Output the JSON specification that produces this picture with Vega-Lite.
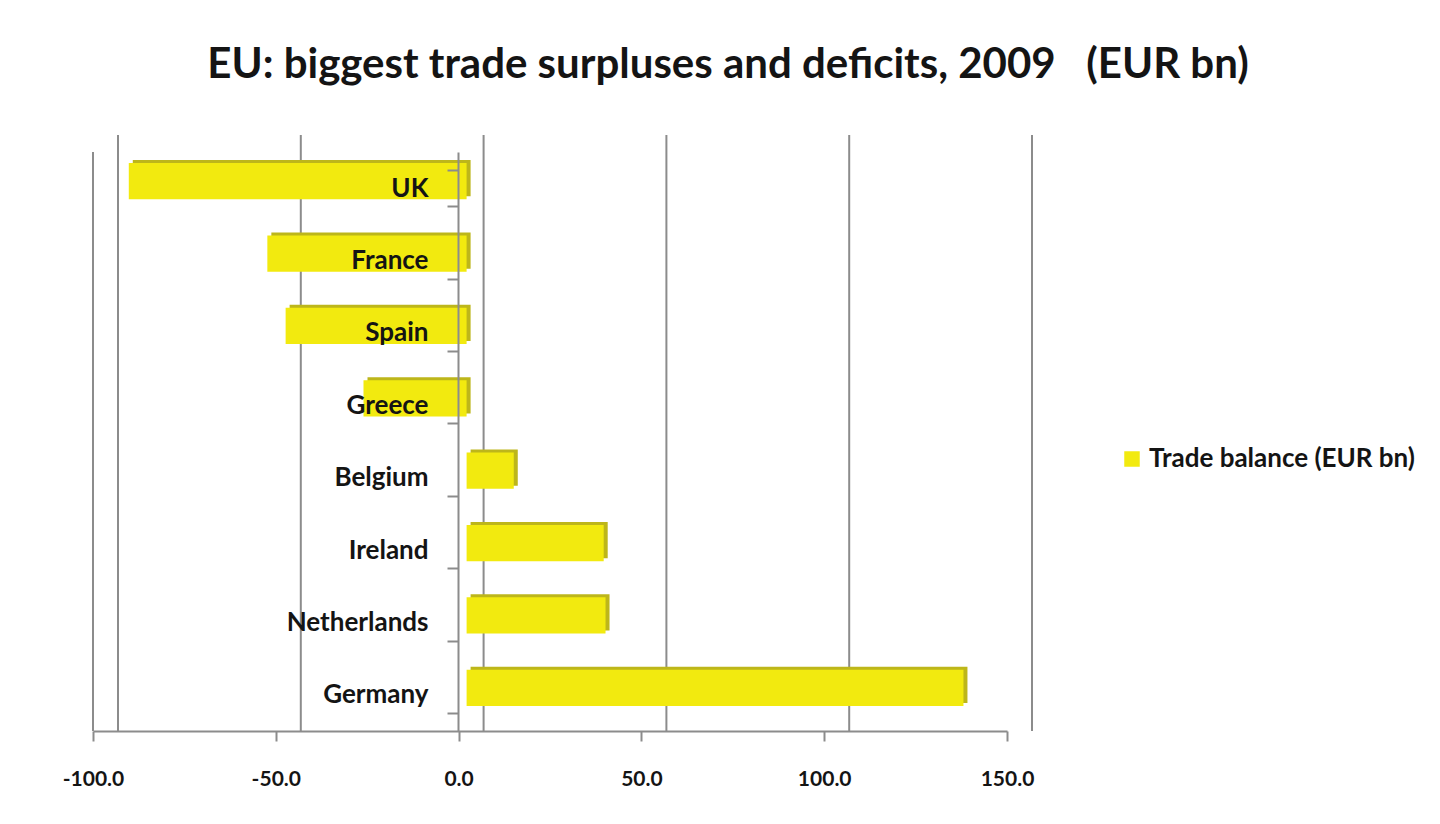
{
  "$schema": "https://vega.github.io/schema/vega-lite/v6.json",
  "width": 914,
  "height": 579,
  "autosize": "none",
  "padding": {"left": 93, "top": 152, "right": 433, "bottom": 93},
  "background": "white",
  "title": {
    "text": "EU: biggest trade surpluses and deficits, 2009\u00a0\u00a0\u00a0(EUR bn)",
    "font": "Lato",
    "fontWeight": "bold",
    "fontSize": 42,
    "color": "#141414",
    "anchor": "middle",
    "frame": "group",
    "dx": 178,
    "offset": 47
  },
  "datasets": {
    "bars": [
      {"country": "UK", "balance": -92.4},
      {"country": "France", "balance": -54.5},
      {"country": "Spain", "balance": -49.5},
      {"country": "Greece", "balance": -28.2},
      {"country": "Belgium", "balance": 12.9},
      {"country": "Ireland", "balance": 37.5},
      {"country": "Netherlands", "balance": 38.0},
      {"country": "Germany", "balance": 135.9}
    ],
    "grid": [{"v": -100}, {"v": -50}, {"v": 0}, {"v": 50}, {"v": 100}, {"v": 150}]
  },
  "layer": [
    {
      "data": {"name": "grid"},
      "mark": {"type": "rule", "color": "#8c8c8c", "strokeWidth": 2, "xOffset": 25, "yOffset": -17, "y2Offset": -17},
      "encoding": {
        "x": {"field": "v", "type": "quantitative", "scale": {"domain": [-100, 150], "nice": false, "zero": false}}
      }
    },
    {
      "data": {"name": "grid"},
      "transform": [{"filter": "datum.v == -100"}],
      "mark": {"type": "rule", "color": "#8c8c8c", "strokeWidth": 2},
      "encoding": {
        "x": {"field": "v", "type": "quantitative"}
      }
    },
    {
      "data": {"name": "bars"},
      "mark": {"type": "bar", "color": "#bdb61a", "xOffset": 12, "yOffset": -10},
      "encoding": {
        "y": {"field": "country", "type": "nominal", "sort": ["UK", "France", "Spain", "Greece", "Belgium", "Ireland", "Netherlands", "Germany"], "scale": {"paddingInner": 0.5, "paddingOuter": 0.25}},
        "x": {"field": "balance", "type": "quantitative"}
      }
    },
    {
      "data": {"name": "bars"},
      "mark": {"type": "bar", "xOffset": 8, "yOffset": -7},
      "encoding": {
        "y": {
          "field": "country",
          "type": "nominal",
          "sort": ["UK", "France", "Spain", "Greece", "Belgium", "Ireland", "Netherlands", "Germany"],
          "axis": {
            "title": null,
            "zindex": 2,
            "offset": -365,
            "domainColor": "#8c8c8c",
            "domainWidth": 2,
            "tickColor": "#8c8c8c",
            "tickWidth": 2,
            "tickSize": 11,
            "tickBand": "extent",
            "labelFont": "Lato",
            "labelFontWeight": "bold",
            "labelFontSize": 26,
            "labelColor": "#141414",
            "labelPadding": 19
          }
        },
        "x": {
          "field": "balance",
          "type": "quantitative",
          "axis": {
            "title": null,
            "values": [-100, -50, 0, 50, 100, 150],
            "labelExpr": "replace(format(datum.value, '.1f'), '\u2212', '-')",
            "grid": false,
            "domainColor": "#8c8c8c",
            "domainWidth": 2,
            "tickColor": "#8c8c8c",
            "tickWidth": 2,
            "tickSize": 10,
            "labelFont": "Lato",
            "labelFontWeight": "bold",
            "labelFontSize": 21,
            "labelColor": "#141414",
            "labelPadding": 27,
            "labelFlush": false
          }
        },
        "color": {
          "datum": "Trade balance (EUR bn)",
          "scale": {"range": ["#f2ea0f"]},
          "legend": {
            "title": null,
            "orient": "none",
            "legendX": 1026,
            "legendY": 294,
            "symbolType": "square",
            "symbolSize": 240,
            "symbolStrokeWidth": 0,
            "labelFont": "Lato",
            "labelFontWeight": "bold",
            "labelFontSize": 26,
            "labelColor": "#141414",
            "labelLimit": 400
          }
        }
      }
    }
  ],
  "config": {"view": {"stroke": null}}
}
